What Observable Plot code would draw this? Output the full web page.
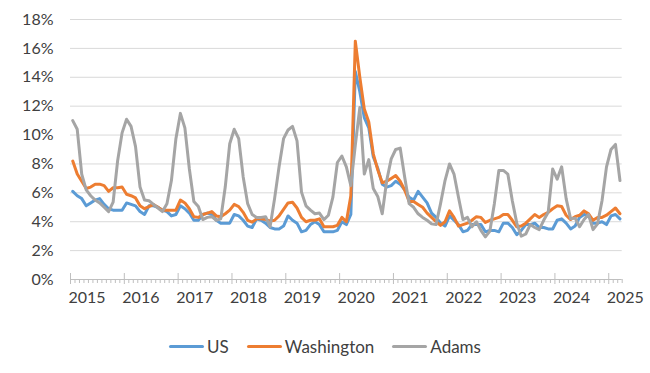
<!DOCTYPE html>
<html><head><meta charset="utf-8">
<script src="https://cdn.jsdelivr.net/npm/d3@7"></script>
<script src="https://cdn.jsdelivr.net/npm/@observablehq/plot@0.6"></script>
<style>
body{margin:0;background:#fff;font-family:Lato,sans-serif;}
#chart{width:650px;height:373px;position:relative;}
#legend{position:absolute;left:0;top:336px;width:650px;height:20px;display:flex;justify-content:center;align-items:center;font-size:17px;color:#404040;}
.item{display:flex;align-items:center;margin:0 9px;}
.sw{width:35px;height:3px;border-radius:2px;margin-right:3px;}
</style></head><body><div id="chart"></div>
<script>
const yearLabels = ["2015","2016","2017","2018","2019","2020","2021","2022","2023","2024","2025"];
const seriesNames = ["US","Washington","Adams"];
const seriesColors = ["#5B9BD5","#ED7D31","#A5A5A5"];
const yTicks = [0,2,4,6,8,10,12,14,16,18];
// monthly values, Jan 2015 - Mar 2025
const us = [
6.1,5.8,5.6,5.1,5.3,5.5,5.6,5.2,4.9,4.8,4.8,4.8,
5.3,5.2,5.1,4.7,4.5,5.1,5.1,5.0,4.8,4.7,4.4,4.5,
5.1,4.9,4.6,4.1,4.1,4.5,4.6,4.5,4.1,3.9,3.9,3.9,
4.5,4.4,4.1,3.7,3.6,4.2,4.1,3.9,3.6,3.5,3.5,3.7,
4.4,4.1,3.9,3.3,3.4,3.8,4.0,3.8,3.3,3.3,3.3,3.4,
4.0,3.8,4.5,14.4,13.0,11.2,10.5,8.5,7.7,6.6,6.4,6.5,
6.8,6.6,6.2,5.7,5.5,6.1,5.7,5.3,4.6,4.3,3.9,3.7,
4.4,4.1,3.8,3.3,3.4,3.8,3.8,3.8,3.3,3.4,3.4,3.3,
3.9,3.9,3.6,3.1,3.4,3.8,3.8,3.9,3.6,3.6,3.5,3.5,
4.1,4.2,3.9,3.5,3.7,4.3,4.5,4.4,3.9,3.9,4.0,3.8,
4.4,4.5,4.2];
const washington = [
8.2,7.3,6.8,6.3,6.4,6.6,6.6,6.5,6.1,6.35,6.35,6.4,
5.9,5.8,5.65,5.1,4.9,5.05,5.2,5.0,4.8,4.8,4.8,4.8,
5.5,5.3,4.9,4.35,4.3,4.5,4.6,4.7,4.4,4.35,4.55,4.8,
5.2,5.05,4.65,4.1,3.97,4.2,4.2,4.15,4.05,4.1,4.4,4.85,
5.3,5.35,4.95,4.3,4.0,4.1,4.1,4.2,3.65,3.65,3.65,3.75,
4.3,4.0,5.8,16.5,14.0,11.8,10.9,8.7,7.6,6.7,6.8,7.0,
7.2,6.8,6.2,5.4,5.4,5.2,5.0,4.6,4.3,4.0,3.75,4.0,
4.75,4.3,3.7,3.8,3.9,4.1,4.35,4.3,3.95,4.1,4.2,4.3,
4.5,4.5,4.1,3.65,3.7,3.9,4.2,4.5,4.3,4.5,4.65,4.9,
5.1,5.05,4.45,4.15,4.35,4.45,4.75,4.55,4.1,4.3,4.3,4.45,
4.7,4.95,4.55];
const adams = [
11.0,10.4,7.3,6.2,5.8,5.5,5.3,5.0,4.7,5.35,8.2,10.15,
11.1,10.6,9.2,6.4,5.5,5.45,5.2,4.95,4.7,5.25,6.85,9.75,
11.5,10.5,7.65,5.4,5.05,4.15,4.3,4.35,4.1,4.2,6.4,9.4,
10.4,9.75,7.1,5.25,4.5,4.3,4.3,4.35,3.65,5.6,7.8,9.75,
10.35,10.6,9.6,6.05,5.1,4.8,4.55,4.6,4.15,4.45,5.7,8.1,
8.55,7.8,6.5,9.3,11.9,7.3,8.3,6.3,5.75,4.55,6.85,8.35,
9.0,9.1,7.1,5.25,5.0,4.55,4.3,4.1,3.85,3.8,5.25,6.85,
8.0,7.3,5.7,4.15,4.3,3.65,4.0,3.4,2.95,3.35,5.25,7.55,
7.55,7.3,5.45,3.9,3.0,3.15,3.8,3.6,3.45,4.1,4.65,7.65,
6.95,7.8,5.6,4.2,4.25,3.65,4.15,4.5,3.45,3.85,5.45,7.8,
9.0,9.35,6.85];

const seriesValues = [us, washington, adams];
const rows = seriesNames.flatMap((name, s) => seriesValues[s].map((v, i) => ({series: name, i, v})));
const nSlots = us.length;
const majors = d3.range(0, nSlots, 12);
const minors = d3.range(0, nSlots + 1).filter(k => k % 12 !== 0);

const plot = Plot.plot({
  width: 650, height: 320,
  marginLeft: 70, marginRight: 28.3, marginTop: 19, marginBottom: 41,
  style: {fontFamily: "Lato, sans-serif", fontSize: "16px", color: "#404040", background: "#fff", overflow: "visible"},
  x: {domain: [0, nSlots], axis: null, label: null},
  y: {domain: [0, 18], axis: null, label: null},
  color: {domain: seriesNames, range: seriesColors},
  marks: [
    Plot.ruleY(yTicks.filter(d => d > 0), {stroke: "#d9d9d9", strokeWidth: 1, strokeOpacity: 1}),
    Plot.axisY(yTicks, {tickSize: 0, tickPadding: 17, tickFormat: d => d + "%", fill: "#404040", label: null}),
    Plot.ruleY([0], {stroke: "#bfbfbf", strokeWidth: 1, strokeOpacity: 1}),
    Plot.ruleX(majors, {y1: 0, y2: 0, insetTop: -6, insetBottom: -5, stroke: "#bfbfbf", strokeOpacity: 1}),
    Plot.ruleX(minors, {y1: 0, y2: 0, insetBottom: -4, stroke: "#bfbfbf", strokeOpacity: 1}),
    Plot.axisX(majors, {tickSize: 0, tickPadding: 12.6, textAnchor: "start", dx: -2, tickFormat: d => yearLabels[d / 12], fill: "#404040", label: null}),
    Plot.line(rows, {x: d => d.i + 0.5, y: "v", z: "series", stroke: "series", strokeWidth: 3, strokeLinejoin: "round", strokeLinecap: "round"})
  ]
});
const chart = document.getElementById("chart");
chart.appendChild(plot);
const legend = document.createElement("div");
legend.id = "legend";
seriesNames.forEach((name, s) => {
  const item = document.createElement("div");
  item.className = "item";
  const sw = document.createElement("span");
  sw.className = "sw";
  sw.style.background = seriesColors[s];
  const t = document.createElement("span");
  t.textContent = name;
  item.appendChild(sw); item.appendChild(t);
  legend.appendChild(item);
});
chart.appendChild(legend);
</script></body></html>
